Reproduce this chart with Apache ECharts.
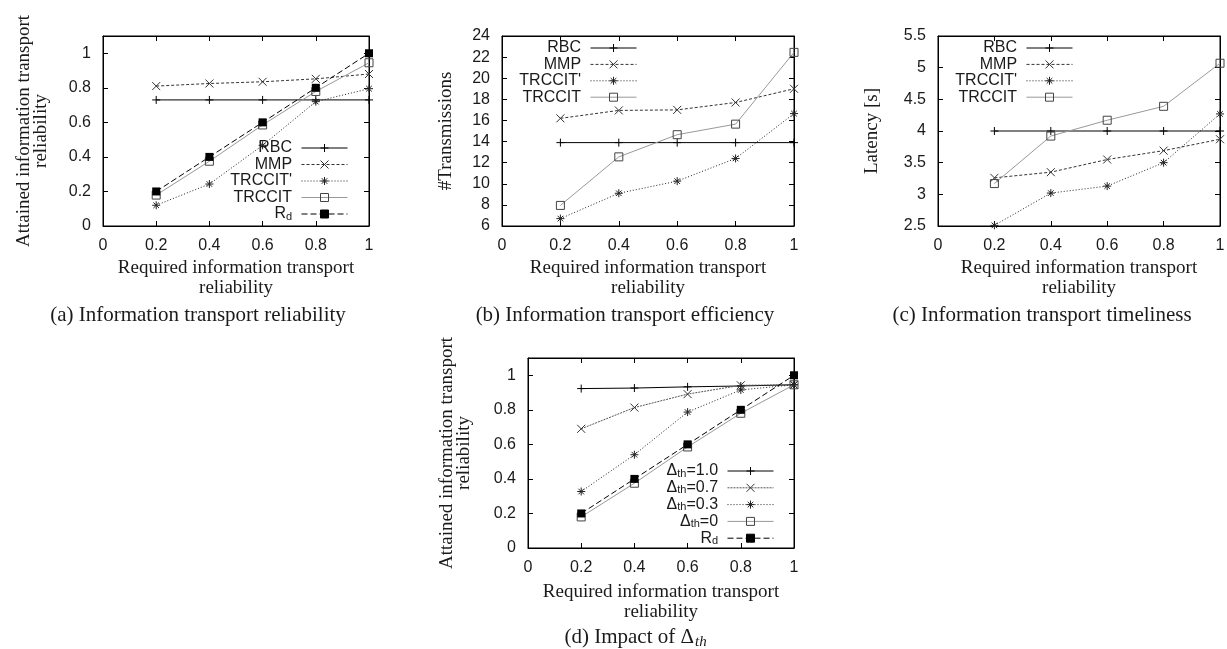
<!DOCTYPE html>
<html lang="en" style="height: 100%">
<head>
    <meta charset="utf-8">
    <title>TRCCIT evaluation</title>
    <script src="https://cdn.jsdelivr.net/npm/echarts@6/dist/echarts.min.js"></script>
    <style>
        html, body { margin: 0; padding: 0; background: #fff; }
        #main { width: 1227px; height: 649px; }
    </style>
</head>
<body>
<div id="main"></div>
<script type="text/javascript">
    // x values shared by all four panels
    var xs = [0.2, 0.4, 0.6, 0.8, 1.0];

    // (a) attained reliability
    var relRBC     = [0.73, 0.73, 0.73, 0.73, 0.73];
    var relMMP     = [0.81, 0.825, 0.835, 0.852, 0.88];
    var relTRCCITp = [0.12, 0.243, 0.467, 0.72, 0.795];
    var relTRCCIT  = [0.179, 0.375, 0.585, 0.779, 0.945];
    var relRd      = [0.2, 0.4, 0.6, 0.8, 1.0];

    // (b) #transmissions
    var txRBC     = [13.9, 13.9, 13.9, 13.9, 13.9];
    var txMMP     = [16.2, 16.95, 17.0, 17.7, 19.0];
    var txTRCCITp = [6.7, 9.1, 10.25, 12.4, 16.65];
    var txTRCCIT  = [7.95, 12.55, 14.65, 15.65, 22.45];

    // (c) latency [s]
    var latRBC     = [4.0, 4.0, 4.0, 4.0, 4.0];
    var latMMP     = [3.26, 3.35, 3.55, 3.69, 3.87];
    var latTRCCITp = [2.51, 3.02, 3.13, 3.5, 4.27];
    var latTRCCIT  = [3.17, 3.92, 4.17, 4.39, 5.07];

    // (d) impact of delta_th
    var th10 = [0.923, 0.926, 0.933, 0.938, 0.945];
    var th07 = [0.69, 0.813, 0.891, 0.942, 0.945];
    var th03 = [0.327, 0.54, 0.787, 0.915, 0.945];
    var th00 = [0.18, 0.375, 0.585, 0.78, 0.945];
    var dRd  = [0.2, 0.4, 0.6, 0.8, 1.0];

    var legendA = ['RBC', 'MMP', "TRCCIT'", 'TRCCIT', 'Rd'];
    var legendB = ['RBC', 'MMP', "TRCCIT'", 'TRCCIT'];
    var legendD = ['Δth=1.0', 'Δth=0.7', 'Δth=0.3', 'Δth=0', 'Rd '];

    // gnuplot-like point types
    var PLUS  = 'path://M0,5L10,5M5,0L5,10';
    var CROSS = 'path://M0,0L10,10M10,0L0,10';
    var STAR  = 'path://M0,5L10,5M5,0L5,10M1.5,1.5L8.5,8.5M8.5,1.5L1.5,8.5';
    var BOX   = 'path://M0,0L10,0L10,10L0,10Z';

    var SANS = 'Liberation Sans';
    var SERIF = 'Liberation Serif';
    var INK = '#1a1a1a';

    var styles = {
        rbc:    { symbol: PLUS,  color: '#000', dash: 'solid', fill: '#000' },
        mmp:    { symbol: CROSS, color: '#333', dash: [3, 2], fill: '#333' },
        trp:    { symbol: STAR,  color: '#222', dash: [1, 2], fill: '#222' },
        trc:    { symbol: BOX,   color: '#999', dash: 'solid', fill: 'rgba(0,0,0,0)', border: '#444' },
        rd:     { symbol: 'rect', color: '#000', dash: [6, 3], fill: '#000' }
    };

    function mkSeries(name, vals, g, st) {
        return {
            name: name,
            type: 'line',
            xAxisIndex: 2 * g,
            yAxisIndex: 2 * g,
            data: xs.map(function (x, i) { return [x, vals[i]]; }),
            symbol: st.symbol,
            symbolSize: 8,
            animation: false,
            lineStyle: { color: st.color, width: 1, type: st.dash },
            itemStyle: { color: st.fill, borderColor: st.border || st.color, borderWidth: st.symbol === 'rect' ? 0 : 1 },
            emphasis: { disabled: true }
        };
    }

    var grids = [
        { left: 103, top: 36, width: 266, height: 190 },
        { left: 502, top: 36, width: 292, height: 190 },
        { left: 938, top: 36, width: 282, height: 190 },
        { left: 528, top: 358, width: 266, height: 190 }
    ];
    var yRanges = [[0, 1.1, 0.2], [6, 24, 2], [2.5, 5.5, 0.5], [0, 1.1, 0.2]];
    var yNames = [
        'Attained information transport\nreliability',
        '#Transmissions',
        'Latency [s]',
        'Attained information transport\nreliability'
    ];
    var yGaps = [53, 47, 57, 55];
    var xGaps = [32, 32, 32, 34];

    var xAxes = [], yAxes = [];
    grids.forEach(function (gr, g) {
        xAxes.push({
            type: 'value', gridIndex: g, position: 'bottom', min: 0, max: 1, interval: 0.2,
            name: 'Required information transport\nreliability',
            nameLocation: 'middle', nameGap: xGaps[g], nameMoveOverlap: false,
            nameTextStyle: { fontFamily: SERIF, fontSize: 19, lineHeight: 20, color: INK },
            axisLine: { show: true, onZero: false, lineStyle: { color: '#000', width: 1 } },
            axisTick: { show: true, inside: true, length: 5, lineStyle: { color: '#000' } },
            axisLabel: { fontFamily: SANS, fontSize: 16, color: INK, margin: 12 },
            splitLine: { show: false }
        });
        xAxes.push({
            type: 'value', gridIndex: g, position: 'top', min: 0, max: 1, interval: 0.2,
            axisLine: { show: true, onZero: false, lineStyle: { color: '#000', width: 1 } },
            axisTick: { show: true, inside: true, length: 5, lineStyle: { color: '#000' } },
            axisLabel: { show: false },
            splitLine: { show: false }
        });
        var r = yRanges[g];
        yAxes.push({
            type: 'value', gridIndex: g, position: 'left', min: r[0], max: r[1], interval: r[2],
            name: yNames[g],
            nameLocation: 'middle', nameGap: yGaps[g], nameMoveOverlap: false,
            nameTextStyle: { fontFamily: SERIF, fontSize: 19, lineHeight: 17, color: INK },
            axisLine: { show: true, onZero: false, lineStyle: { color: '#000', width: 1 } },
            axisTick: { show: true, inside: true, length: 5, lineStyle: { color: '#000' } },
            axisLabel: { fontFamily: SANS, fontSize: 16, color: INK, margin: 12, showMaxLabel: r[1] !== 1.1 },
            splitLine: { show: false }
        });
        yAxes.push({
            type: 'value', gridIndex: g, position: 'right', min: r[0], max: r[1], interval: r[2],
            axisLine: { show: true, onZero: false, lineStyle: { color: '#000', width: 1 } },
            axisTick: { show: true, inside: true, length: 5, lineStyle: { color: '#000' } },
            axisLabel: { show: false },
            splitLine: { show: false }
        });
    });

    var series = [
        mkSeries('RBC', relRBC, 0, styles.rbc),
        mkSeries('MMP', relMMP, 0, styles.mmp),
        mkSeries("TRCCIT'", relTRCCITp, 0, styles.trp),
        mkSeries('TRCCIT', relTRCCIT, 0, styles.trc),
        mkSeries('Rd', relRd, 0, styles.rd),

        mkSeries('RBC', txRBC, 1, styles.rbc),
        mkSeries('MMP', txMMP, 1, styles.mmp),
        mkSeries("TRCCIT'", txTRCCITp, 1, styles.trp),
        mkSeries('TRCCIT', txTRCCIT, 1, styles.trc),

        mkSeries('RBC', latRBC, 2, styles.rbc),
        mkSeries('MMP', latMMP, 2, styles.mmp),
        mkSeries("TRCCIT'", latTRCCITp, 2, styles.trp),
        mkSeries('TRCCIT', latTRCCIT, 2, styles.trc),

        mkSeries('Δth=1.0', th10, 3, styles.rbc),
        mkSeries('Δth=0.7', th07, 3, { symbol: CROSS, color: '#555', dash: [2, 1], fill: '#333', border: '#333' }),
        mkSeries('Δth=0.3', th03, 3, { symbol: STAR, color: '#222', dash: [1, 2], fill: '#222' }),
        mkSeries('Δth=0', th00, 3, styles.trc),
        mkSeries('Rd ', dRd, 3, styles.rd)
    ];

    function legendFmt(name) {
        if (name.trim() === 'Rd') return '{m|R}{s|d}{m| }';
        if (name.indexOf('Δth') === 0) return '{m|Δ}{s|th}{m|' + name.slice(3) + ' }';
        return name + ' ';
    }
    var legendText = {
        fontFamily: SANS, fontSize: 16, lineHeight: 16, color: INK,
        rich: {
            m: { fontFamily: SANS, fontSize: 16, lineHeight: 16, color: INK },
            s: { fontFamily: SANS, fontSize: 11, lineHeight: 8, color: INK, verticalAlign: 'bottom' }
        }
    };
    function mkLegend(data, right, top, gap) {
        return {
            data: data, orient: 'vertical', align: 'right', right: right, top: top,
            padding: 0, itemGap: gap, itemWidth: 46, itemHeight: 10,
            selectedMode: false, formatter: legendFmt, textStyle: legendText,
            lineStyle: { width: 1 },
            itemStyle: { borderWidth: 1 }
        };
    }

    var captions = [
        { text: '(a) Information transport reliability', x: 198, y: 315 },
        { text: '(b) Information transport efficiency', x: 625, y: 315 },
        { text: '(c) Information transport timeliness', x: 1042, y: 315 }
    ];
    var graphics = captions.map(function (c) {
        return {
            type: 'text', x: c.x, y: c.y,
            style: { text: c.text, fontFamily: SERIF, fontSize: 21, fill: INK, align: 'center', verticalAlign: 'middle' }
        };
    });
    graphics.push({
        type: 'text', x: 694, y: 637,
        style: { text: '(d) Impact of Δ', fontFamily: SERIF, fontSize: 21, fill: INK, align: 'right', verticalAlign: 'middle' }
    });
    graphics.push({
        type: 'text', x: 695, y: 642,
        style: { text: 'th', fontFamily: SERIF, fontSize: 15, fontStyle: 'italic', fill: INK, align: 'left', verticalAlign: 'middle' }
    });

    var dom = document.getElementById('main');
    var myChart = echarts.init(dom, null, { renderer: 'canvas' });
    var option = {
        backgroundColor: '#fff',
        animation: false,
        grid: grids.map(function (gr) {
            return {
                left: gr.left, top: gr.top, width: gr.width, height: gr.height,
                show: true, borderColor: '#000', borderWidth: 1, backgroundColor: 'transparent',
                containLabel: false, outerBoundsMode: 'none'
            };
        }),
        xAxis: xAxes,
        yAxis: yAxes,
        legend: [
            mkLegend(legendA, 879, 140, 0.5),
            mkLegend(legendB, 590, 40, 0.4),
            mkLegend(legendB, 154, 40, 0.4),
            mkLegend(legendD, 453, 463, 0.8)
        ],
        graphic: graphics,
        series: series
    };
    myChart.setOption(option);
</script>
</body>
</html>
